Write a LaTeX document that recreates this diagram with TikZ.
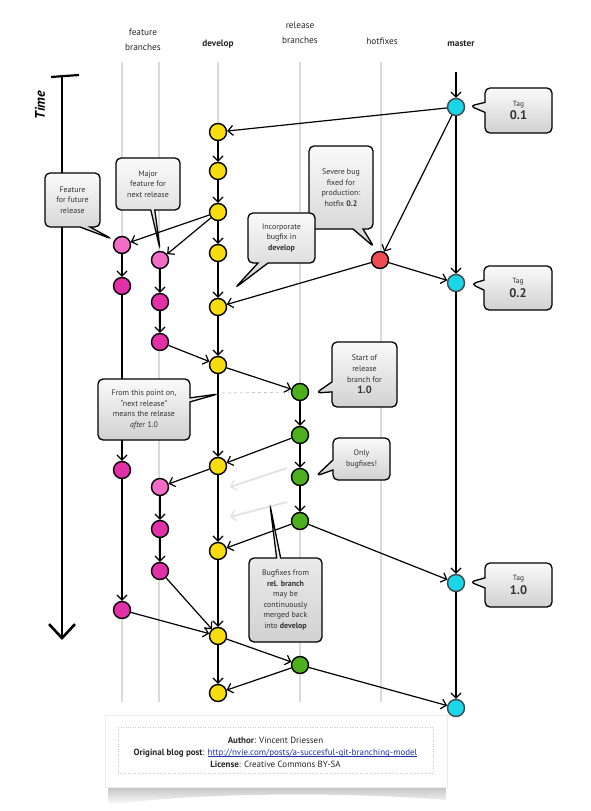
\documentclass[tikz,border=0pt]{standalone}
\usepackage{fontspec}
\setmainfont{PT Sans}
\usetikzlibrary{arrows.meta,shapes.callouts,shadings}
\definecolor{devY}{HTML}{F7DC0F}
\definecolor{featL}{HTML}{F36CC6}
\definecolor{featD}{HTML}{E230A8}
\definecolor{relG}{HTML}{4DAF1E}
\definecolor{hotR}{HTML}{EE4B57}
\definecolor{masC}{HTML}{1AD6EA}
\definecolor{laneC}{HTML}{DADADA}
\definecolor{txt}{HTML}{333333}
\definecolor{linkblue}{HTML}{2233AA}
\tikzset{
  commit/.style={circle, draw=black, line width=1.4bp, minimum size=17bp, inner sep=0pt},
  dev/.style={commit, fill=devY},
  featl/.style={commit, fill=featL},
  featd/.style={commit, fill=featD},
  rel/.style={commit, fill=relG},
  hot/.style={commit, fill=hotR},
  mas/.style={commit, fill=masC, draw=black!80!cyan},
  arr/.style={draw=black, line width=1.2bp, -{Straight Barb[length=5bp,width=10bp,line width=1.2bp]}},
  ghost/.style={draw=gray!22, line width=2bp, -{Straight Barb[length=5bp,width=11bp,line width=1.5bp]}},
  lanebg/.style={draw=laneC, line width=2.6bp},
  hdr/.style={font=\fontsize{9.3}{14.5}\selectfont, text=black!85, align=center},
  note/.style={rectangle callout, rounded corners=5bp, draw=black, line width=1.3bp,
     top color=gray!4, bottom color=gray!36, align=center,
     font=\fontsize{8}{10.6}\selectfont, text=txt, inner sep=1bp,
     callout pointer width=10bp},
  narrow/.style={callout pointer width=4bp},
}
\newcommand{\tagtext}[1]{{\fontsize{7.5}{9}\selectfont Tag}\\[3bp]{\fontsize{12.5}{13}\selectfont\bfseries #1}}
\newcommand{\linkul}[1]{\setbox0\hbox{#1}\rlap{\rule[-1.1bp]{\wd0}{0.45bp}}\box0}
\begin{document}
\begin{tikzpicture}[x=1bp,y=-1bp]
\useasboundingbox (0,0) rectangle (591,811);
% lanes
\foreach \lx in {122,159,218,300,381} {
  \coordinate (lt\lx) at (\lx,62);
  \coordinate (lb\lx) at (\lx,702);
  \draw[lanebg] (lt\lx) -- (lb\lx);
}
% headers
\node[hdr] (hfeat) at (143,40) {feature\\branches};
\node[hdr] (hdev) at (218,44) {\textbf{develop}};
\node[hdr] (hrel) at (300,33) {release\\branches};
\node[hdr] (hhot) at (382,41) {hotfixes};
\node[hdr] (hmas) at (461,44) {\textbf{master}};
% time arrow
\coordinate (tt0) at (51,77);
\coordinate (tt1) at (79,75);
\coordinate (ttop) at (62,76);
\coordinate (tbot) at (62,640);
\draw[line width=2.2bp] (tt0) -- (tt1);
\draw[line width=2.2bp, -{Straight Barb[length=14bp,width=26bp,line width=2.6bp]}] (ttop) -- (tbot);
\node[rotate=90, font=\fontsize{14}{16}\selectfont\bfseries\itshape] (time) at (40,105) {Time};
% develop
\node[dev] (d1) at (218,132) {};
\node[dev] (d2) at (218,171) {};
\node[dev] (d3) at (218,212) {};
\node[dev] (d4) at (218,253) {};
\node[dev] (d5) at (218,307) {};
\node[dev] (d6) at (218,365) {};
\node[dev] (d7) at (218,466) {};
\node[dev] (d8) at (218,551) {};
\node[dev] (d9) at (218,636) {};
\node[dev] (d10) at (218,693) {};
% features
\node[featl] (f1a) at (122,245) {};
\node[featd] (f1b) at (122,286) {};
\node[featd] (f1c) at (122,470) {};
\node[featd] (f1d) at (122,610) {};
\node[featl] (f2a) at (160,260) {};
\node[featd] (f2b) at (160,302) {};
\node[featd] (f2c) at (160,342) {};
\node[featl] (f2d) at (160,487) {};
\node[featd] (f2e) at (160,529) {};
\node[featd] (f2f) at (160,571) {};
% release
\node[rel] (r1) at (300,392) {};
\node[rel] (r2) at (300,435) {};
\node[rel] (r3) at (300,477) {};
\node[rel] (r4) at (300,521) {};
\node[rel] (r5) at (300,665) {};
% hotfix
\node[hot] (h1) at (380,260) {};
% master
\coordinate (m0) at (456,72);
\node[mas] (m1) at (456,107) {};
\node[mas] (m2) at (456,283) {};
\node[mas] (m3) at (456,583) {};
\node[mas] (m4) at (456,708) {};
% dashed & ghost
\coordinate (dl) at (222,393);
\draw[dashed, gray!45, line width=0.8bp] (dl) -- (r1);
\coordinate (g1s) at (287,468); \coordinate (g1e) at (230,487);
\coordinate (g2s) at (287,502); \coordinate (g2e) at (230,517);
\draw[ghost] (g1s) -- (g1e);
\draw[ghost] (g2s) -- (g2e);
% edges
\draw[arr] (m0) -- (m1);
\draw[arr] (m1) -- (d1);
\draw[arr] (m1) -- (h1);
\draw[arr] (m1) -- (m2);
\draw[arr] (h1) -- (m2);
\draw[arr] (h1) -- (d5);
\draw[arr] (m2) -- (m3);
\draw[arr] (m3) -- (m4);
\draw[arr] (d1) -- (d2);
\draw[arr] (d2) -- (d3);
\draw[arr] (d3) -- (d4);
\draw[arr] (d4) -- (d5);
\draw[arr] (d5) -- (d6);
\draw[arr] (d6) -- (d7);
\draw[arr] (d7) -- (d8);
\draw[arr] (d8) -- (d9);
\draw[arr] (d9) -- (d10);
\draw[arr] (d3) -- (f1a);
\draw[arr] (d3) -- (f2a);
\draw[arr] (f1a) -- (f1b);
\draw[arr] (f1b) -- (f1c);
\draw[arr] (f1c) -- (f1d);
\draw[arr] (f1d) -- (d9);
\draw[arr] (f2a) -- (f2b);
\draw[arr] (f2b) -- (f2c);
\draw[arr] (f2c) -- (d6);
\draw[arr] (d7) -- (f2d);
\draw[arr] (f2d) -- (f2e);
\draw[arr] (f2e) -- (f2f);
\draw[arr] (f2f) -- (d9);
\draw[arr] (d6) -- (r1);
\draw[arr] (r1) -- (r2);
\draw[arr] (r2) -- (r3);
\draw[arr] (r3) -- (r4);
\draw[arr] (r2) -- (d7);
\draw[arr] (r4) -- (d8);
\draw[arr] (r4) -- (m3);
\draw[arr] (d9) -- (r5);
\draw[arr] (r5) -- (d10);
\draw[arr] (r5) -- (m4);
% callouts
\node[note, minimum width=67bp, minimum height=45bp, callout absolute pointer={(470,106)}] (tag1) at (518.5,110.5) {\tagtext{0.1}};
\node[note, minimum width=68bp, minimum height=44bp, callout absolute pointer={(471,284)}] (tag2) at (518,288) {\tagtext{0.2}};
\node[note, minimum width=67bp, minimum height=44bp, callout absolute pointer={(470,582)}] (tag3) at (518.5,585) {\tagtext{1.0}};
\node[note, minimum width=64bp, minimum height=83bp, callout absolute pointer={(374,247)}] (severe) at (341,187.5)
  {Severe bug\\fixed for\\production:\\hotfix \textbf{0.2}};
\node[note, minimum width=67bp, minimum height=50bp, callout absolute pointer={(235,288)}] (incorp) at (281.5,238)
  {Incorporate\\bugfix in\\\textbf{develop}};
\node[note, minimum width=55bp, minimum height=54bp, callout absolute pointer={(112,239)}] (future) at (72.5,200)
  {Feature\\for future\\release};
\node[note, narrow, minimum width=64bp, minimum height=52bp, callout absolute pointer={(160,249)}] (major) at (148,184)
  {Major\\feature for\\next release};
\node[note, minimum width=65bp, minimum height=65bp, callout absolute pointer={(316,393)}] (start) at (364.5,374.5)
  {Start of\\release\\branch for\\[1bp]{\fontsize{10.5}{12}\selectfont\bfseries 1.0}};
\node[note, minimum width=57bp, minimum height=42bp, callout absolute pointer={(316,476)}] (only) at (361.5,459)
  {Only\\bugfixes!};
\node[note, narrow, minimum width=92bp, minimum height=61bp, callout absolute pointer={(218,394)}] (point) at (144,409.5)
  {From this point on,\\“next release”\\means the release\\\textit{after} 1.0};
\node[note, narrow, minimum width=73bp, minimum height=84bp, callout absolute pointer={(270,505)}] (bugfix) at (285.5,600)
  {Bugfixes from\\\textbf{rel. branch}\\may be\\continuously\\merged back\\into \textbf{develop}};
% footer paper
\coordinate (sh1) at (108,786);
\coordinate (sh2) at (446,786);
\shade[top color=gray!50, bottom color=white] (sh1) -- (sh2) -- (446,800) .. controls (350,792) and (200,792) .. (108,805) -- cycle;
\node[draw=gray!15, line width=0.4bp, fill=white, minimum width=342bp, minimum height=72bp] (paper) at (276,751) {};
\node[draw=gray!40, dotted, line width=0.5bp, minimum width=315bp, minimum height=46bp] (inner) at (275.5,750) {};
\node[font=\fontsize{9}{12}\selectfont, align=center, text=black!85] (foot) at (275.5,752)
  {\textbf{Author}: Vincent Driessen\\
   \textbf{Original blog post}: \textcolor{linkblue}{\linkul{http://nvie.com/posts/a-succesful-git-branching-model}}\\
   \textbf{License}: Creative Commons BY-SA};
\end{tikzpicture}
\end{document}
